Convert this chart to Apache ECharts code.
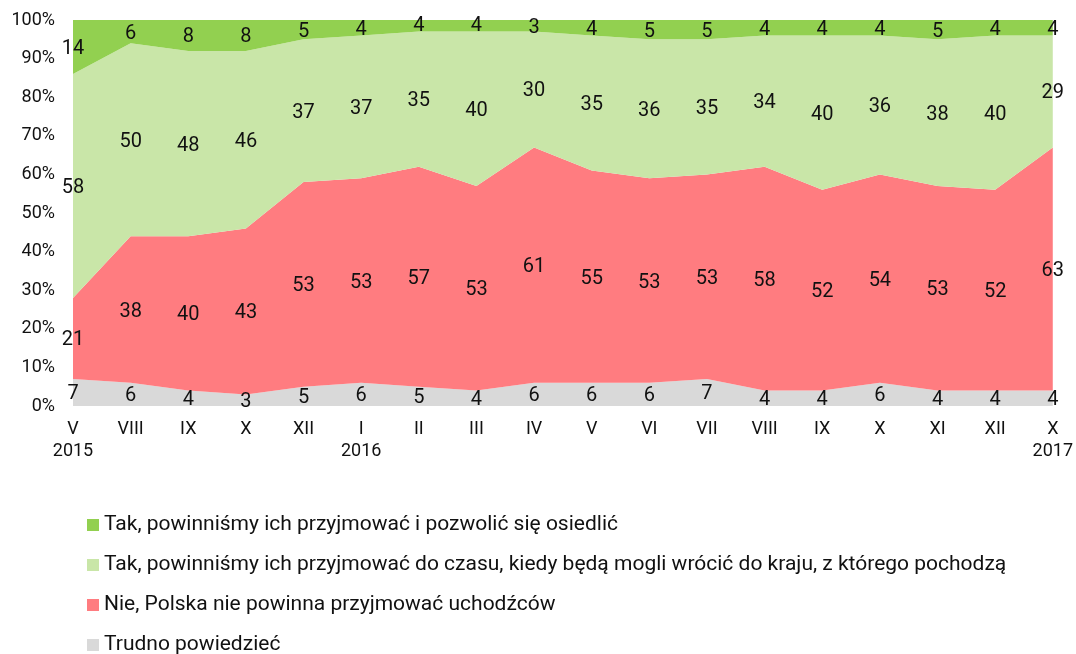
<!DOCTYPE html>
<html>
<head>
<meta charset="utf-8">
<script src="https://cdn.jsdelivr.net/npm/echarts@6/dist/echarts.min.js"></script>
<style>
  html, body { margin: 0; padding: 0; background: #fff; }
  #chart { width: 1076px; height: 654px; }
</style>
</head>
<body>
<div id="chart"></div>
<script>
var categories = ['V\n2015', 'VIII', 'IX', 'X', 'XII', 'I\n2016', 'II', 'III', 'IV', 'V', 'VI', 'VII', 'VIII', 'IX', 'X', 'XI', 'XII', 'X\n2017'];

var trudno   = [7, 6, 4, 3, 5, 6, 5, 4, 6, 6, 6, 7, 4, 4, 6, 4, 4, 4];
var nie      = [21, 38, 40, 43, 53, 53, 57, 53, 61, 55, 53, 53, 58, 52, 54, 53, 52, 63];
var takCzas  = [58, 50, 48, 46, 37, 37, 35, 40, 30, 35, 36, 35, 34, 40, 36, 38, 40, 29];
var takOsied = [14, 6, 8, 8, 5, 4, 4, 4, 3, 4, 5, 5, 4, 4, 4, 5, 4, 4];

var names = [
    'Tak, powinniśmy ich przyjmować i pozwolić się osiedlić',
    'Tak, powinniśmy ich przyjmować do czasu, kiedy będą mogli wrócić do kraju, z którego pochodzą',
    'Nie, Polska nie powinna przyjmować uchodźców',
    'Trudno powiedzieć'
];
var colors = ['#92d050', '#c9e6a8', '#ff7c80', '#d9d9d9'];

// bottom to top
var layers = [
    {name: names[3], data: trudno, color: colors[3]},
    {name: names[2], data: nie, color: colors[2]},
    {name: names[1], data: takCzas, color: colors[1]},
    {name: names[0], data: takOsied, color: colors[0]}
];

var FONT = 'Roboto';
var series = [];
var base = categories.map(function () { return 0; });

for (var i = 0; i < layers.length; i++) {
    var layer = layers[i];
    series.push({
        name: layer.name,
        type: 'line',
        stack: 'all',
        data: layer.data,
        symbol: 'none',
        lineStyle: {width: 0},
        itemStyle: {color: layer.color},
        areaStyle: {color: layer.color, opacity: 1},
        z: 2
    });
    // label in the middle of each band
    var mids = [];
    for (var j = 0; j < base.length; j++) {
        mids.push({value: base[j] + layer.data[j] / 2, raw: layer.data[j]});
        base[j] += layer.data[j];
    }
    series.push({
        type: 'line',
        data: mids,
        symbol: 'circle',
        symbolSize: 0,
        lineStyle: {width: 0, opacity: 0},
        silent: true,
        z: 5,
        label: {
            show: true,
            position: 'inside',
            offset: [0, 2],
            fontFamily: FONT,
            fontSize: 20,
            color: '#111',
            formatter: function (p) { return p.data.raw; }
        }
    });
}

var chart = echarts.init(document.getElementById('chart'));
chart.setOption({
    backgroundColor: '#fff',
    animation: false,
    textStyle: {fontFamily: FONT},
    grid: {left: 73, right: 21, top: 20, bottom: 248, containLabel: false},
    xAxis: {
        type: 'category',
        boundaryGap: false,
        data: categories,
        axisLine: {show: false},
        axisTick: {show: false},
        axisLabel: {fontFamily: FONT, fontSize: 18, color: '#111', margin: 12, lineHeight: 22, interval: 0}
    },
    yAxis: {
        type: 'value',
        min: 0,
        max: 100,
        interval: 10,
        axisLine: {show: false},
        axisTick: {show: false},
        splitLine: {show: false},
        axisLabel: {fontFamily: FONT, fontSize: 18, color: '#111', margin: 18, formatter: '{value}%'}
    },
    legend: {
        orient: 'vertical',
        left: 87,
        top: 514,
        height: 160,
        padding: 0,
        itemWidth: 12,
        itemHeight: 12,
        itemGap: 18,
        icon: 'rect',
        data: names,
        textStyle: {fontFamily: FONT, fontSize: 21, color: '#111', lineHeight: 22, padding: [0, 0, 0, 0]}
    },
    series: series
});
</script>
</body>
</html>
